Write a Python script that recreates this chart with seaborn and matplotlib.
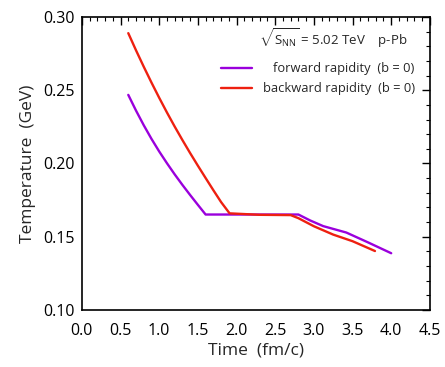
import numpy as np
import pandas as pd
import matplotlib
matplotlib.use("Agg")
import matplotlib.pyplot as plt
from matplotlib.ticker import MultipleLocator, FormatStrFormatter
import seaborn as sns

# Data
fwd_t = [0.6, 0.7, 0.8, 0.9, 1.0, 1.1, 1.2, 1.3, 1.4, 1.5, 1.6,
         2.0, 2.4, 2.8, 2.95, 3.12, 3.42, 3.7, 4.0]
fwd_T = [0.2468, 0.2361, 0.2261, 0.2168, 0.2082, 0.2002, 0.1926, 0.1854, 0.1785, 0.1718, 0.1652,
         0.1652, 0.1652, 0.1652, 0.1612, 0.1573, 0.1529, 0.1462, 0.1388]
bwd_t = [0.6, 0.7, 0.8, 0.9, 1.0, 1.1, 1.2, 1.3, 1.4, 1.5, 1.6, 1.7, 1.8, 1.91,
         2.3, 2.7, 2.8, 3.0, 3.25, 3.5, 3.79]
bwd_T = [0.2889, 0.2772, 0.2660, 0.2552, 0.2448, 0.2348, 0.2252, 0.2160, 0.2071, 0.1985, 0.1901, 0.1818, 0.1737, 0.1660,
         0.1650, 0.1648, 0.1627, 0.1572, 0.1515, 0.1470, 0.1403]
series_names = ["forward rapidity  (b = 0)", "backward rapidity  (b = 0)"]
colors = ["#9a00dc", "#ee2010"]

df = pd.concat([
    pd.DataFrame({"Time": fwd_t, "T": fwd_T, "series": series_names[0]}),
    pd.DataFrame({"Time": bwd_t, "T": bwd_T, "series": series_names[1]}),
])

sns.set_style("white")
plt.rcParams['font.family'] = ['Open Sans', 'DejaVu Sans']
plt.rcParams['mathtext.fontset'] = 'custom'
plt.rcParams['mathtext.rm'] = 'Open Sans'
plt.rcParams['mathtext.it'] = 'Open Sans'

fig = plt.figure(figsize=(4.45, 3.67), dpi=100)
ax = fig.add_axes([0.184, 0.155, 0.782, 0.799])

sns.lineplot(data=df, x="Time", y="T", hue="series", palette=colors,
             hue_order=series_names, sort=False, estimator=None, lw=1.7, ax=ax)

ax.set_xlim(0, 4.5)
ax.set_ylim(0.10, 0.30)
ax.xaxis.set_major_locator(MultipleLocator(0.5))
ax.xaxis.set_minor_locator(MultipleLocator(0.1))
ax.yaxis.set_major_locator(MultipleLocator(0.05))
ax.yaxis.set_minor_locator(MultipleLocator(0.01))
ax.xaxis.set_major_formatter(FormatStrFormatter('%.1f'))
ax.yaxis.set_major_formatter(FormatStrFormatter('%.2f'))
ax.tick_params(which='both', direction='in', top=True, right=True, colors='black', labelsize=11.5)
ax.tick_params(axis='x', which='major', pad=9)
ax.tick_params(axis='y', which='major', pad=5)
ax.tick_params(which='major', length=6, width=1)
ax.tick_params(which='minor', length=3, width=0.8)
for s in ax.spines.values():
    s.set_color('black')
    s.set_linewidth(1.2)

ax.set_xlabel("Time  (fm/c)", fontsize=12.5, labelpad=3)
ax.set_ylabel("Temperature  (GeV)", fontsize=12.5, labelpad=5)

ax.text(0.937, 0.928, r"$\sqrt{S_{\rm NN}}$ = 5.02 TeV    p-Pb", transform=ax.transAxes,
        ha='right', va='center', fontsize=9.5)

leg = ax.legend(loc='upper right', bbox_to_anchor=(0.99, 0.885), frameon=False,
                fontsize=9.3, handlelength=2.4, handletextpad=0.8, labelspacing=0.55)
renderer = fig.canvas.get_renderer()
widths = [t.get_window_extent(renderer).width for t in leg.get_texts()]
mw = max(widths)
for t, w in zip(leg.get_texts(), widths):
    t.set_position((mw - w, 0))

fig.savefig("out.png", dpi=100)
